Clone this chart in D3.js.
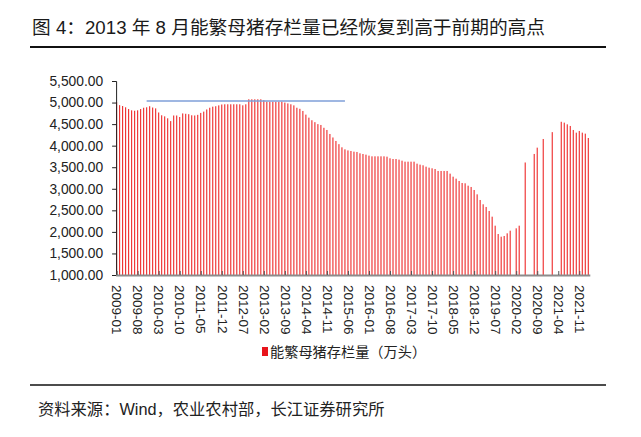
<!DOCTYPE html>
<html><head><meta charset="utf-8">
<script src="https://cdn.jsdelivr.net/npm/d3@7"></script>
<style>
body{margin:0;background:#fff;}
svg{display:block;font-family:"Liberation Sans",Arial,"Noto Sans CJK SC",sans-serif;}
</style></head>
<body><svg id="c" width="641" height="437"></svg>
<script>
// ---- data ----
const startMonth = "2009-01";
const endMonth = "2022-02";
const sowStock = [
  5010, 4940, 4920, 4890, 4850, 4820, 4810, 4820, 4850, 4880, 4890, 4915,
  4885, 4865, 4770, 4705, 4680, 4635, 4570, 4700, 4700, 4665, 4748, 4740,
  4730, 4705, 4700, 4715, 4760, 4790, 4840, 4880, 4905, 4915, 4935, 4955,
  4960, 4960, 4960, 4960, 4960, 4960, 4936, 4960, 5076, 5076, 5076, 5076,
  5076, 5053, 5021, 5021, 5021, 5021, 5021, 5021, 5000, 4980, 4960, 4935,
  4880, 4855, 4805, 4720, 4650, 4590, 4545, 4500, 4480, 4415, 4364, 4271,
  4190, 4109, 4035, 3962, 3915, 3890, 3877, 3861, 3854, 3823, 3807, 3792,
  3769, 3753, 3753, 3753, 3753, 3753, 3745, 3707, 3691, 3691, 3676, 3652,
  3629, 3629, 3629, 3629, 3583, 3560, 3545, 3513, 3490, 3475, 3459, 3413,
  3413, 3413, 3413, 3351, 3281, 3235, 3181, 3134, 3127, 3072, 3042, 2972,
  2871, 2740, 2640, 2578, 2485, 2353, 2144, 1951, 1889, 1905, 1967, 2028,
  null, 2083, 2144, null, 3610, null, null, 3808, 3954, null, 4155, null,
  null, 4314, null, null, 4554, 4534, 4495, 4457, 4364, 4302, 4341, 4302,
  4279, 4178
];
const xTickLabels = ["2009-01","2009-08","2010-03","2010-10","2011-05","2011-12","2012-07","2013-02","2013-09","2014-04","2014-11","2015-06","2016-01","2016-08","2017-03","2017-10","2018-05","2018-12","2019-07","2020-02","2020-09","2021-04","2021-11"];
const yTickValues = [1000,1500,2000,2500,3000,3500,4000,4500,5000,5500];
const refLineValue = 5035;
const refLineFrom = "2009-11";
const refLineTo = "2015-05";
const titleText = "图 4：2013 年 8 月能繁母猪存栏量已经恢复到高于前期的高点";
const seriesName = "能繁母猪存栏量（万头）";
const sourceText = "资料来源：Wind，农业农村部，长江证券研究所";

// month categories
const fmt = d3.timeFormat("%Y-%m"), parse = d3.timeParse("%Y-%m");
const months = d3.timeMonth.range(parse(startMonth), d3.timeMonth.offset(parse(endMonth),1)).map(fmt);
const data = months.map((m,i)=>({m, v: sowStock[i]}));

const svg = d3.select("#c");
const L = 116.6, R = 588.3, T = 81, B = 275;
const x = d3.scalePoint().domain(months).range([L, R]);
const y = d3.scaleLinear().domain([1000,5500]).range([B, T]);

// title
svg.append("text").attr("x",32).attr("y",34).attr("font-size",18.7).attr("fill","#1a1a1a").text(titleText);
svg.append("line").attr("x1",30).attr("x2",606).attr("y1",47).attr("y2",47).attr("stroke","#111").attr("stroke-width",2);

// bars
const bw = 1.1;
svg.append("g").selectAll("rect").data(data.filter(d=>d.v!=null)).join("rect")
  .attr("x", d=>x(d.m)-bw/2).attr("width", bw)
  .attr("y", d=>y(d.v)).attr("height", d=>B-y(d.v))
  .attr("fill","#ee2a2a");

// y axis
const ya = svg.append("g").attr("transform",`translate(${L-0.5},0)`)
  .call(d3.axisLeft(y).tickValues(yTickValues).tickFormat(d3.format(",.2f")).tickSize(4).tickPadding(9));
ya.select(".domain").attr("stroke","#222");
ya.selectAll(".tick line").attr("stroke","#222");
ya.selectAll("text").attr("font-size",13.8).attr("fill","#222").style("font-family","Liberation Sans, Arial, sans-serif");

// x axis
const xa = svg.append("g").attr("transform",`translate(0,${B})`)
  .call(d3.axisBottom(x).tickValues(xTickLabels).tickSize(-4).tickSizeOuter(0).tickPadding(0));
xa.select(".domain").attr("stroke","#8c8c8c").attr("stroke-width",2.2).attr("d",`M${L-0.5},0.5H${R+2}`);
xa.selectAll(".tick line").attr("stroke","#555").attr("stroke-width",1);
xa.selectAll("text")
  .attr("font-size",13.5).attr("fill","#222").style("font-family","Liberation Sans, Arial, sans-serif")
  .attr("text-anchor","start").attr("transform","translate(0,10) rotate(90)")
  .attr("x",0).attr("y",0).attr("dy","0.35em");

// reference line
svg.append("line").attr("x1",x(refLineFrom)).attr("x2",x(refLineTo))
  .attr("y1",y(refLineValue)).attr("y2",y(refLineValue))
  .attr("stroke","#7f9fd8").attr("stroke-width",1.6);

// legend
svg.append("rect").attr("x",262).attr("y",347).attr("width",6).attr("height",9).attr("fill","#e8141c");
svg.append("text").attr("x",270).attr("y",357).attr("font-size",14.2).attr("fill","#222").text(seriesName);

// footer
svg.append("line").attr("x1",30).attr("x2",606).attr("y1",385).attr("y2",385).attr("stroke","#111").attr("stroke-width",1.6);
svg.append("text").attr("x",38).attr("y",415).attr("font-size",16.3).attr("fill","#222").text(sourceText);
</script></body></html>
